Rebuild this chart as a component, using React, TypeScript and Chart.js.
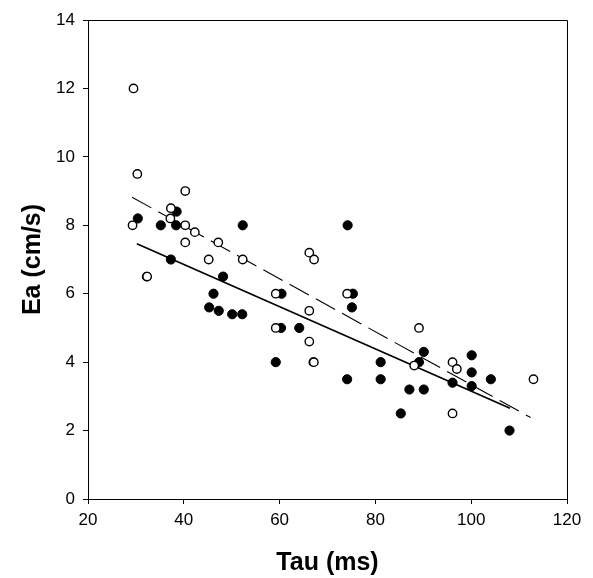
import React, { useEffect, useRef } from 'react';
import { Chart, registerables } from 'chart.js';

Chart.register(...registerables);

// Filled circles (solid regression line)
const filledTau = [30.4, 35.2, 37.3, 38.4, 38.5, 45.3, 46.2, 47.3, 48.2, 50.1, 52.2, 52.3, 59.2, 60.3, 60.4, 64.1, 74.1, 74.2, 75.1, 75.3, 81.1, 81.1, 85.3, 87.1, 89.1, 90.1, 90.1, 96.1, 100.1, 100.1, 100.1, 104.1, 108.0];
const filledEa = [8.2, 8.0, 7.0, 8.0, 8.4, 5.6, 6.0, 5.5, 6.5, 5.4, 5.4, 8.0, 4.0, 5.0, 6.0, 5.0, 3.5, 8.0, 5.6, 6.0, 4.0, 3.5, 2.5, 3.2, 4.0, 4.3, 3.2, 3.4, 4.2, 3.7, 3.3, 3.5, 2.0];

// Open circles (dashed regression line)
const openTau = [29.5, 30.3, 29.3, 32.25, 32.35, 37.3, 37.2, 40.3, 40.3, 40.3, 42.3, 45.2, 47.2, 52.3, 59.2, 59.2, 66.2, 67.2, 66.2, 66.2, 67.05, 67.15, 74.1, 88.1, 89.1, 96.1, 97.0, 96.1, 113.0];
const openEa = [12.0, 9.5, 8.0, 6.5, 6.5, 8.5, 8.2, 9.0, 8.0, 7.5, 7.8, 7.0, 7.5, 7.0, 6.0, 5.0, 7.2, 7.0, 5.5, 4.6, 4.0, 4.0, 6.0, 3.9, 5.0, 4.0, 3.8, 2.5, 3.5];

// Regression line end points
const solidFitTau = [30.2, 108.1];
const solidFitEa = [7.46, 2.65];
const dashedFitTau = [29.2, 112.4];
const dashedFitEa = [8.82, 2.38];

// Axis ticks
const xTicks = [20, 40, 60, 80, 100, 120];
const yTicks = [0, 2, 4, 6, 8, 10, 12, 14];

const FONT = '"Liberation Sans", Arial, Helvetica, sans-serif';

const toPoints = (xs: number[], ys: number[]) => xs.map((x, i) => ({ x, y: ys[i] }));

const framePlugin = {
  id: 'frame',
  afterDraw(chart: any) {
    const { ctx, chartArea } = chart;
    ctx.save();
    ctx.strokeStyle = '#000';
    ctx.lineWidth = 1;
    ctx.beginPath();
    const l = Math.round(chartArea.left) + 0.5;
    const r = Math.round(chartArea.right) + 0.5;
    const t = Math.round(chartArea.top) + 0.5;
    const b = Math.round(chartArea.bottom) + 0.5;
    ctx.moveTo(l, t);
    ctx.lineTo(r, t);
    ctx.lineTo(r, b);
    ctx.stroke();
    ctx.restore();
  },
};

export default function App() {
  const ref = useRef<HTMLCanvasElement | null>(null);

  useEffect(() => {
    if (!ref.current) return;
    const chart = new Chart(ref.current, {
      type: 'scatter',
      data: {
        datasets: [
          {
            type: 'line',
            data: toPoints(solidFitTau, solidFitEa),
            borderColor: '#000',
            borderWidth: 1.7,
            pointRadius: 0,
            fill: false,
            order: 3,
          } as any,
          {
            type: 'line',
            data: toPoints(dashedFitTau, dashedFitEa),
            borderColor: '#000',
            borderWidth: 1.1,
            borderDash: [22, 8],
            pointRadius: 0,
            fill: false,
            order: 3,
          } as any,
          {
            data: toPoints(filledTau, filledEa),
            backgroundColor: '#000',
            borderColor: '#000',
            borderWidth: 1,
            pointRadius: 4.6,
            order: 2,
          },
          {
            data: toPoints(openTau, openEa),
            backgroundColor: '#fff',
            borderColor: '#000',
            borderWidth: 1.4,
            pointRadius: 4.2,
            order: 1,
          },
        ],
      },
      options: {
        responsive: false,
        animation: false,
        layout: { padding: { top: 20, right: 26, left: 0, bottom: 0 } },
        plugins: { legend: { display: false }, tooltip: { enabled: false } },
        scales: {
          x: {
            type: 'linear',
            min: 20,
            max: 120,
            afterBuildTicks: (scale: any) => {
              scale.ticks = xTicks.map((v) => ({ value: v }));
            },
            afterFit: (scale: any) => {
              scale.height = 79;
            },
            ticks: {
              color: '#000',
              font: { family: FONT, size: 17 },
              padding: 6,
              maxRotation: 0,
            },
            grid: {
              display: true,
              drawOnChartArea: false,
              drawTicks: true,
              tickLength: 5,
              color: '#000',
            },
            border: { display: true, color: '#000', width: 1 },
            title: {
              display: true,
              text: 'Tau (ms)',
              color: '#000',
              font: { family: FONT, size: 25, weight: 'bold' },
              padding: { top: 0, bottom: 0 },
            },
          },
          y: {
            type: 'linear',
            min: 0,
            max: 14,
            afterBuildTicks: (scale: any) => {
              scale.ticks = yTicks.map((v) => ({ value: v }));
            },
            afterFit: (scale: any) => {
              scale.width = 88;
            },
            ticks: {
              color: '#000',
              font: { family: FONT, size: 17 },
              padding: 8,
            },
            grid: {
              display: true,
              drawOnChartArea: false,
              drawTicks: true,
              tickLength: 5,
              color: '#000',
            },
            border: { display: true, color: '#000', width: 1 },
            title: {
              display: true,
              text: 'Ea (cm/s)',
              color: '#000',
              font: { family: FONT, size: 25, weight: 'bold' },
              padding: { top: 18, bottom: 0 },
            },
          },
        },
      },
      plugins: [framePlugin],
    });
    return () => chart.destroy();
  }, []);

  return (
    <div style={{ position: 'absolute', left: 0, top: 0, width: 593, height: 578, background: '#fff' }}>
      <canvas ref={ref} width={593} height={578} style={{ display: 'block' }} />
    </div>
  );
}
